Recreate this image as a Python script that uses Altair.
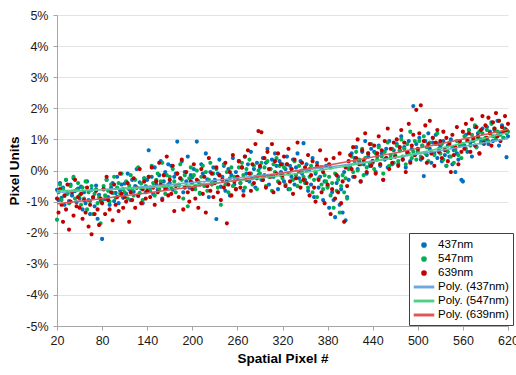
import altair as alt
import pandas as pd

# Spatial pixel positions shared by all three wavelengths
x_start, x_stop, x_step = 20, 620, 2
pixels = list(range(x_start, x_stop + 1, x_step))

# Measured offsets in pixel units (%), one value per spatial pixel above
blue_437 = [
    -0.62, -0.95, -0.40, -0.88, -0.55, -1.10, -0.30, -0.72, -0.98, -0.45, -0.80, -0.25, -0.66, -1.02, -0.58,
    -0.90, -0.52, -1.25, -0.70, -1.05, -0.35, -0.95, -1.40, -0.62, -0.88, -1.15, -0.48, -1.55, -0.78, -0.98,
    -2.20, -0.60, -0.92, -0.30, -0.85, -1.10, -0.55, -0.40, -0.98, -0.72, -0.20, -1.05, -0.65, -0.45, -0.88,
    -0.42, -0.75, -0.10, -0.60, -0.95, -0.30, -0.68, -0.50, 0.05, -0.82, -0.38, -0.58, -1.05, -0.25, -0.70,
    -0.30, 0.65, -0.55, -0.20, -0.75, 0.10, -0.45, -0.62, -0.15, 0.30, -0.90, -0.35, -0.05, -0.58, 0.20,
    -0.40, 0.15, -0.62, -0.20, -0.10, 0.93, -0.48, -0.25, 0.30, -0.70, -0.05, -0.35, 0.45, -0.55, -0.15,
    -0.22, 0.05, -0.50, 0.93, -0.35, -0.72, 0.20, -0.10, -0.45, 0.55, -0.28, -0.85, -0.05, -0.40, 0.10,
    -0.30, -1.56, -0.10, 0.35, -0.52, -0.20, 0.15, -0.65, -0.35, 0.05, -0.80, -0.15, 0.40, -0.45, -0.05,
    -0.20, 0.30, -0.40, 0.10, -0.65, 0.45, -0.10, 0.20, -0.35, 0.60, -0.25, 0.05, -0.55, 0.25, -0.15,
    0.10, -0.30, 0.40, -0.15, 0.25, 0.70, -0.45, 0.05, 0.35, -0.20, 0.55, 0.15, -0.60, 0.30, -0.05,
    0.20, -0.35, 0.05, 0.45, -0.60, 0.15, -0.20, 0.35, -0.45, 0.10, 0.55, -0.25, 0.30, -0.10, 0.88,
    -0.30, 0.20, -0.65, 0.05, -0.45, 0.40, -0.85, -0.10, 0.25, -0.55, -0.20, 0.10, -0.95, -0.35, 0.15,
    -0.50, -1.20, 0.10, -0.70, -0.95, -1.50, -0.40, -0.20, -1.10, -0.60, -1.35, -0.05, -1.60, -0.85, -0.30,
    0.10, 0.55, -0.20, 0.40, 0.75, 0.05, 0.30, -0.35, 0.60, 0.20, 0.95, -0.10, 0.45, 0.15, 0.70,
    0.25, 0.60, -0.05, 0.45, 0.80, 0.15, 0.55, -0.30, 0.35, 0.70, 0.10, 0.95, 0.40, 0.20, 0.65,
    0.45, 0.85, 0.20, 0.65, 1.10, 0.35, 0.75, 0.10, 0.55, 0.95, 0.30, 0.70, 2.07, 0.50, 0.85,
    0.60, 1.05, 0.35, 0.80, -0.18, 0.95, 0.50, 1.20, 0.70, 0.25, 0.90, 0.55, 1.15, 0.40, 0.85,
    0.75, 0.30, 0.95, 0.50, 0.15, 0.80, 0.45, 1.00, 0.20, 0.65, -0.05, 0.55, 0.35, 0.85, -0.30,
    -0.35, 0.80, 1.15, 0.60, 1.30, 0.90, 0.45, 1.05, 1.40, 0.75, 1.20, 0.55, 1.00, 1.35, 0.85,
    1.00, 1.40, 0.85, 1.25, 1.55, 0.95, 1.30, 1.10, 1.60, 0.80, 1.20, 1.45, 1.05, 1.35, 0.43,
    1.10,
]

green_547 = [
    -1.58, -0.70, -0.45, -0.95, -0.60, -0.82, -0.30, -0.75, -1.05, -0.50, -0.68, -0.20, -0.90, -0.62, -0.40,
    -0.80, -1.10, -0.55, -0.90, -0.35, -1.25, -0.70, -0.98, -0.50, -1.40, -0.75, -0.60, -1.05, -0.85, -1.70,
    -0.95, -0.50, -0.80, -0.30, -0.65, -1.00, -0.45, -0.72, -0.20, -0.88, -0.55, -0.40, -0.75, -0.10, -0.60,
    -0.70, -0.35, -0.90, -0.48, -0.15, -0.62, -0.80, -0.30, -0.55, 0.10, -0.72, -0.42, -0.95, -0.25, -0.50,
    -0.55, -0.20, -0.65, 0.15, -0.40, -0.80, -0.30, -0.10, -0.60, -0.35, 0.25, -0.50, -0.75, -0.15, -0.45,
    -0.20, -0.55, 0.05, -0.35, -0.70, -0.10, -0.45, 0.20, -0.30, -0.90, -0.15, -0.50, -1.15, -0.25, 0.10,
    -0.40, -0.15, -0.60, 0.00, -0.35, -0.75, -0.20, 0.15, -0.50, -0.05, -0.65, -0.30, 0.25, -0.45, -0.10,
    -0.35, 0.05, -0.55, -0.15, -1.10, -0.30, 0.20, -0.45, -0.05, -0.70, -0.25, 0.10, -0.50, -0.20, -0.60,
    -0.25, 0.10, -0.40, 0.25, -0.15, -0.55, 0.05, -0.30, 0.35, -0.10, -0.45, 0.15, -0.20, -0.60, 0.00,
    -0.10, 0.25, -0.30, 0.10, -0.50, 0.30, -0.20, 0.05, -0.65, 0.20, -0.05, 0.40, -0.35, 0.15, -0.15,
    -0.25, 0.10, -0.45, 0.20, -0.10, -0.60, 0.05, -0.30, 0.30, -0.15, -0.50, 0.15, -0.35, 0.00, -0.20,
    -0.40, 0.00, -0.55, -0.20, 0.15, -0.70, -0.30, -0.05, -0.85, -0.25, 0.10, -0.45, -0.60, -0.15, -0.35,
    -0.55, -0.20, -0.80, -0.40, -1.20, -0.10, -0.65, -0.30, -1.35, -0.50, -0.15, -0.70, -0.25, -0.90, 0.05,
    0.15, 0.45, -0.05, 0.30, 0.60, 0.00, 0.35, 0.20, 0.70, -0.15, 0.40, 0.10, 0.55, 0.25, 0.85,
    0.30, 0.05, 0.55, 0.35, 0.75, 0.20, 0.45, -0.10, 0.60, 0.40, 0.90, 0.15, 0.50, 0.70, 0.25,
    0.50, 0.80, 0.30, 0.65, 1.00, 0.45, 0.70, 0.20, 0.85, 0.55, 1.25, 0.40, 0.60, 0.95, 0.35,
    0.65, 0.95, 0.45, 0.80, 1.10, 0.55, 0.75, 0.30, 0.90, 0.60, 1.05, 0.50, 0.85, 1.20, 0.70,
    0.55, 0.85, 0.35, 0.70, 0.15, 0.60, 0.90, 0.45, 0.75, 0.25, 0.65, 0.95, 0.50, 0.80, 0.40,
    0.85, 1.10, 0.70, 1.00, 1.30, 0.80, 1.15, 0.95, 1.45, 0.75, 1.05, 1.25, 0.90, 1.20, 1.00,
    1.05, 1.30, 0.95, 1.20, 1.50, 1.10, 1.35, 1.00, 1.25, 1.60, 1.15, 1.40, 1.05, 1.30, 1.20,
    1.25,
]

red_639 = [
    -0.90, -1.35, -0.60, -1.10, -1.65, -0.80, -1.25, -0.45, -1.90, -1.00, -0.70, -1.45, -0.30, -1.15, -0.85,
    -1.20, -0.75, -1.55, -0.95, -1.35, -0.55, -1.80, -1.10, -2.05, -0.85, -1.40, -0.65, -1.25, -1.75, -0.90,
    -1.05, -0.60, -1.40, -0.20, -0.95, -1.25, -0.70, -1.60, -0.45, -1.10, -0.85, -1.30, -0.10, -0.75, -1.20,
    -0.85, -1.00, -0.40, -1.65, -0.70, -0.95, -0.25, -1.20, -0.55, -0.80, 0.05, -1.05, -0.60, -0.35, -0.90,
    -0.65, -0.20, -0.85, 0.10, -0.55, -1.10, -0.35, -0.70, 0.25, -0.45, -0.95, -0.15, -0.60, 0.45, -0.80,
    -0.30, -0.75, 0.15, -1.30, -0.50, -0.10, -0.85, -0.25, 0.35, -1.25, -0.55, -0.05, -0.70, -1.00, -0.35,
    -0.60, 0.20, -0.90, -0.30, -1.20, -0.45, 0.05, -0.75, -0.20, -1.35, -0.50, 0.40, -0.65, -0.10, -0.85,
    -0.40, 0.10, -0.70, -0.15, -0.95, -0.30, -0.55, 0.25, -1.70, -0.45, -0.05, -0.80, 0.50, -0.35, -0.60,
    -0.20, 0.30, -0.55, 0.10, -0.80, 0.45, -0.30, 0.65, -0.10, -0.65, 0.20, -0.40, 0.85, -0.25, 1.27,
    0.15, 1.23, -0.30, 0.40, -0.55, 0.60, 0.05, -0.20, 0.85, -0.70, 0.30, -0.10, 0.55, -0.40, 0.20,
    -0.15, 0.45, -0.50, 0.20, 0.70, -0.35, 0.05, -0.75, 0.35, -0.25, 0.90, -0.05, -0.55, 0.25, -0.30,
    0.10, -0.40, 0.50, -0.80, -0.15, 0.30, -0.55, -1.00, 0.15, -0.30, 0.65, -0.70, -0.05, -1.05, 0.35,
    -0.45, 0.20, -1.40, -0.60, 0.40, -0.90, -0.15, -0.70, 0.55, -1.05, -0.35, -1.65, 0.10, -0.50, 0.30,
    0.50, 0.05, 0.75, -0.20, 0.40, 1.00, 0.20, -0.35, 0.65, 0.30, 1.20, -0.05, 0.55, 0.85, 0.15,
    0.30, 0.80, -0.10, 0.55, 1.10, 0.20, 0.65, -0.30, 0.95, 0.40, 1.35, 0.05, 0.70, 0.25, 0.90,
    0.45, 1.00, 0.15, 0.75, 1.30, 0.35, 0.90, -0.05, 0.60, 1.50, 0.25, 0.80, 1.15, 0.50, 1.95,
    0.70, 1.20, 2.10, 0.40, 0.95, 1.45, 0.25, 0.85, 1.60, 0.55, 1.05, 0.15, 0.90, 1.30, 0.60,
    0.95, 0.40, 1.25, 0.65, 1.05, 0.30, 0.85, -0.05, 1.15, 0.50, 0.75, 1.40, 0.20, 0.95, 0.60,
    1.25, 0.70, 1.50, 0.95, 1.20, 0.60, 1.65, 1.00, 0.80, 1.40, 1.10, 0.55, 1.30, 1.75, 0.90,
    1.45, 1.05, 1.70, 1.20, 0.80, 1.55, 1.35, 1.85, 1.10, 1.60, 0.95, 1.40, 1.25, 1.75, 1.30,
    1.50,
]

series_names = ["437nm", "547nm", "639nm"]
fit_names = ["Poly. (437nm)", "Poly. (547nm)", "Poly. (639nm)"]
point_colors = ["#0070c0", "#00b050", "#c00000"]
fit_colors = ["#6fa8dc", "#4fd08a", "#e05555"]
y_ticks = [-5, -4, -3, -2, -1, 0, 1, 2, 3, 4, 5]
x_ticks = list(range(20, 621, 60))

frames = []
for name, values in zip(series_names, [blue_437, green_547, red_639]):
    frames.append(pd.DataFrame({"pixel": pixels, "offset": values, "series": name}))
data = pd.concat(frames, ignore_index=True)

FONT = "Liberation Sans"

# Small dot for the measured points, thin bar for the fitted curves
DOT = "M-0.29,0A0.29,0.29 0 1,0 0.29,0A0.29,0.29 0 1,0 -0.29,0Z"
BAR = "M-1.35,-0.1H1.35V0.1H-1.35Z"
legend_names = series_names + fit_names

color_scale = alt.Scale(domain=legend_names, range=point_colors + fit_colors)
shape_scale = alt.Scale(domain=legend_names, range=[DOT] * 3 + [BAR] * 3)

x_enc = alt.X(
    "pixel:Q",
    scale=alt.Scale(domain=[20, 620], nice=False, zero=False),
    axis=alt.Axis(
        title="Spatial Pixel #", values=x_ticks, grid=False, tickSize=4,
        labelPadding=4, titlePadding=5, labelOverlap=False, labelFlush=False,
    ),
)
y_enc = alt.Y(
    "offset:Q",
    scale=alt.Scale(domain=[-5, 5], nice=False),
    axis=alt.Axis(
        title="Pixel Units", values=y_ticks, labelExpr="datum.value + '%'",
        tickSize=4, labelPadding=5, titlePadding=4, labelOverlap=False, labelFlush=False,
    ),
)

legend = alt.Legend(
    title=None,
    orient="none",
    legendX=352,
    legendY=218,
    padding=4,
    strokeColor="#404040",
    fillColor="white",
    symbolSize=200,
    symbolOffset=3,
    labelFontSize=11.5,
    labelFont=FONT,
    labelColor="#000000",
    labelOffset=6,
    rowPadding=0,
    labelLimit=200,
)

points = alt.Chart(data).mark_point(filled=True, size=200, opacity=1).encode(
    x=x_enc,
    y=y_enc,
    color=alt.Color("series:N", scale=color_scale, legend=legend),
    shape=alt.Shape("series:N", scale=shape_scale, legend=legend),
)

fits = (
    alt.Chart(data)
    .transform_regression("pixel", "offset", groupby=["series"], method="poly", order=2)
    .transform_calculate(series="'Poly. (' + datum.series + ')'")
    .mark_line(strokeWidth=1.5)
    .encode(x=x_enc, y=y_enc, color=alt.Color("series:N", scale=color_scale, legend=legend))
)

chart = (
    alt.layer(points, fits)
    .properties(
        width=451,
        height=311,
        padding={"left": 57, "top": 15, "right": 8, "bottom": 49},
        autosize=alt.AutoSizeParams(type="none"),
        background="white",
    )
    .configure_view(stroke=None)
    .configure_axis(
        labelFont=FONT,
        labelFontSize=12.5,
        labelColor="#1a1a1a",
        titleFont=FONT,
        titleFontSize=13.5,
        titleFontWeight="bold",
        titleColor="#000000",
        domainColor="#a6a6a6",
        tickColor="#a6a6a6",
        gridColor="#e3e3e3",
    )
)

chart.save("out.html", embed_options={"renderer": "svg", "actions": False})
